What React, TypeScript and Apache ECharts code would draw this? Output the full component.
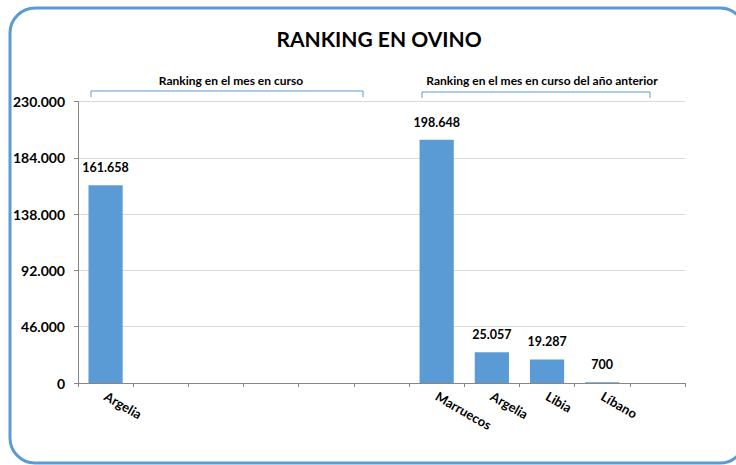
import React, { useEffect, useRef } from "react";
import * as echarts from "echarts";

const categories = ["Argelia", "", "", "", "", "", "Marruecos", "Argelia", "Libia", "Líbano", ""];
const values: (number | null)[] = [161658, null, null, null, null, null, 198648, 25057, 19287, 700, null];
const yMin = 0;
const yMax = 230000;
const yStep = 46000;
const titleText = "RANKING EN OVINO";
const groupLabels = ["Ranking en el mes en curso", "Ranking en el mes en curso del año anterior"];

const fmt = (v: number) => {
  const s = Math.round(v).toString();
  return s.replace(/\B(?=(\d{3})+(?!\d))/g, ".");
};

const FONT = "Lato, 'Open Sans', sans-serif";
const BLUE = "#5b9bd5";

export default function App() {
  const ref = useRef<HTMLDivElement>(null);
  useEffect(() => {
    if (!ref.current) return;
    const chart = echarts.init(ref.current, null, { renderer: "svg" });
    chart.setOption({
      animation: false,
      backgroundColor: "#ffffff",
      grid: { left: 78, right: 51, top: 101.5, bottom: 82, containLabel: false },
      xAxis: {
        type: "category",
        data: categories,
        boundaryGap: true,
        axisLine: { show: true, lineStyle: { color: "#868686", width: 1 } },
        axisTick: { show: true, alignWithLabel: false, length: 4, interval: 0, lineStyle: { color: "#868686" } },
        axisLabel: {
          interval: 0,
          rotate: -30,
          margin: 12,
          color: "#000",
          fontFamily: FONT,
          fontWeight: "bold",
          fontSize: 13,
        },
      },
      yAxis: {
        type: "value",
        min: yMin,
        max: yMax,
        interval: yStep,
        axisLine: { show: true, lineStyle: { color: "#868686", width: 1 } },
        axisTick: { show: true, length: 4, lineStyle: { color: "#868686" } },
        splitLine: { show: true, lineStyle: { color: "#d9d9d9", width: 1 } },
        axisLabel: {
          margin: 13,
          color: "#000",
          fontFamily: FONT,
          fontWeight: "bold",
          fontSize: 14,
          formatter: (v: number) => fmt(v),
        },
      },
      series: [
        {
          type: "bar",
          data: values,
          barCategoryGap: "38%",
          itemStyle: { color: BLUE },
          label: {
            show: true,
            position: "top",
            distance: 11,
            color: "#000",
            fontFamily: FONT,
            fontWeight: "bold",
            fontSize: 12.5,
            formatter: (p: any) => (p.value == null ? "" : fmt(p.value)),
          },
        },
      ],
      graphic: [
        {
          type: "rect",
          shape: { x: 10, y: 8, width: 735, height: 455, r: 25 },
          style: { fill: "none", stroke: BLUE, lineWidth: 3 },
          silent: true,
        },
        {
          type: "text",
          x: 379,
          y: 38,
          style: {
            text: titleText,
            fill: "#000",
            font: `bold 21px ${FONT}`,
            textAlign: "center",
            textVerticalAlign: "middle",
          },
        },
        {
          type: "text",
          x: 231,
          y: 80,
          style: {
            text: groupLabels[0],
            fill: "#000",
            font: `bold 12px ${FONT}`,
            textAlign: "center",
            textVerticalAlign: "middle",
          },
        },
        {
          type: "text",
          x: 542,
          y: 80,
          style: {
            text: groupLabels[1],
            fill: "#000",
            font: `bold 12px ${FONT}`,
            textAlign: "center",
            textVerticalAlign: "middle",
          },
        },
        {
          type: "polyline",
          shape: { points: [[91, 97], [91, 91], [363, 91], [363, 97]] },
          style: { stroke: BLUE, lineWidth: 1, fill: "none" },
        },
        {
          type: "polyline",
          shape: { points: [[422, 98], [422, 92], [650, 92], [650, 98]] },
          style: { stroke: BLUE, lineWidth: 1, fill: "none" },
        },
      ],
    });
    return () => chart.dispose();
  }, []);
  return (
    <div
      ref={ref}
      style={{ position: "absolute", left: 0, top: 0, width: 736, height: 465, background: "#fff" }}
    />
  );
}
